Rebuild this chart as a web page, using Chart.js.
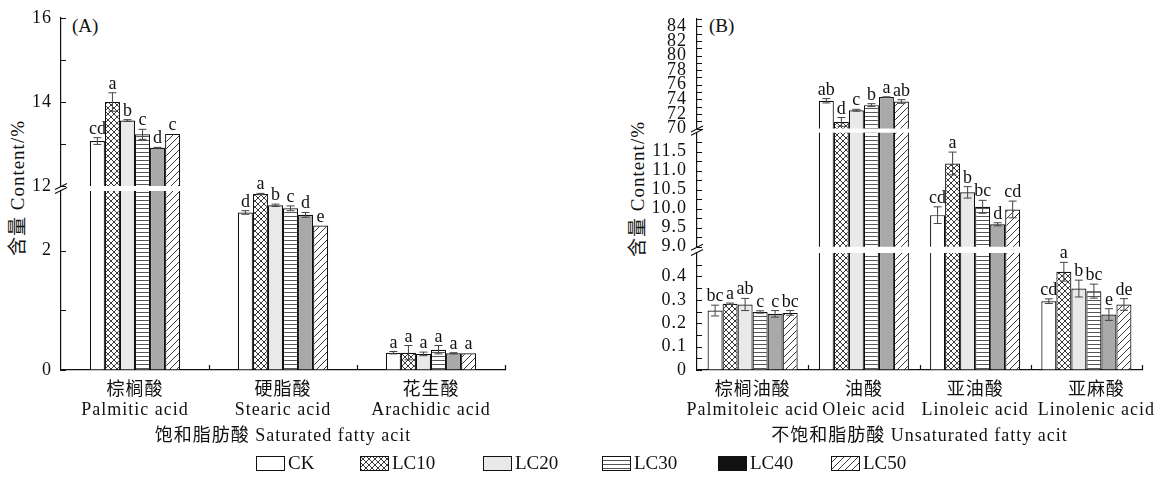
<!DOCTYPE html>
<html><head><meta charset="utf-8">
<script src="https://cdn.jsdelivr.net/npm/chart.js@4.4.1/dist/chart.umd.min.js"></script>
<style>
html,body{margin:0;padding:0;background:#fff;}
#page{position:relative;width:1168px;height:478px;overflow:hidden;font-family:"Liberation Serif","Noto Sans CJK SC",serif;color:#111;}
#page canvas.seg{position:absolute;left:0;top:0;}
.ytitle{position:absolute;font-size:19px;letter-spacing:1px;white-space:nowrap;transform:translate(-50%,-50%) rotate(-90deg);}
.plabel{position:absolute;font-size:19px;line-height:19px;}
.li{position:absolute;top:455px;height:16px;display:flex;align-items:center;font-size:19px;line-height:16px;}
.li canvas{margin-right:3px;display:block;}
</style></head>
<body>
<div id="page">
  <div class="ytitle" style="left:15px;top:188px;">含量 Content/%</div>
  <div class="ytitle" style="left:635px;top:189px;">含量 Content/%</div>
  <div class="plabel" style="left:72px;top:16px;">(A)</div>
  <div class="plabel" style="left:709px;top:16px;">(B)</div>
</div>
<script>
// ---------------- data ----------------
const series = ['CK', 'LC10', 'LC20', 'LC30', 'LC40', 'LC50'];

const satCategories = [['棕榈酸', 'Palmitic acid'], ['硬脂酸', 'Stearic acid'], ['花生酸', 'Arachidic acid']];
const unsatCategories = [['棕榈油酸', 'Palmitoleic acid'], ['油酸', 'Oleic acid'], ['亚油酸', 'Linoleic acid'], ['亚麻酸', 'Linolenic acid']];
const satTitle = '饱和脂肪酸 Saturated fatty acit';
const unsatTitle = '不饱和脂肪酸 Unsaturated fatty acit';

// values in series order: CK, LC10, LC20, LC30, LC40, LC50
const palmitic = [13.07, 14.00, 13.56, 13.23, 12.91, 13.24];
const palmiticErr = [0.08, 0.22, 0.02, 0.12, 0.01, 0];
const palmiticSig = ['cd', 'a', 'b', 'c', 'd', 'c'];

const stearic = [2.64, 2.95, 2.76, 2.71, 2.60, 2.42];
const stearicErr = [0.03, 0.01, 0.02, 0.04, 0.04, 0];
const stearicSig = ['d', 'a', 'b', 'c', 'd', 'e'];

const arachidic = [0.29, 0.29, 0.27, 0.34, 0.28, 0.28];
const arachidicErr = [0.02, 0.12, 0.03, 0.07, 0.01, 0];
const arachidicSig = ['a', 'a', 'a', 'a', 'a', 'a'];

const palmitoleic = [0.254, 0.283, 0.280, 0.248, 0.240, 0.244];
const palmitoleicErr = [0.023, 0.003, 0.026, 0.005, 0.014, 0.010];
const palmitoleicSig = ['bc', 'a', 'ab', 'c', 'c', 'bc'];

const oleic = [73.8, 70.9, 72.5, 73.2, 74.3, 73.7];
const oleicErr = [0.3, 0.6, 0.13, 0.2, 0.05, 0.25];
const oleicSig = ['ab', 'd', 'c', 'b', 'a', 'ab'];

const linoleic = [9.83, 11.19, 10.43, 10.05, 9.59, 9.98];
const linoleicErr = [0.22, 0.30, 0.15, 0.17, 0.04, 0.22];
const linoleicSig = ['cd', 'a', 'b', 'bc', 'd', 'cd'];

const linolenic = [0.294, 0.420, 0.348, 0.337, 0.237, 0.280];
const linolenicErr = [0.010, 0.040, 0.036, 0.030, 0.025, 0.025];
const linolenicSig = ['cd', 'a', 'b', 'bc', 'e', 'de'];

// tick values of every axis segment (broken axes)
const ticksA1 = [12, 13, 14, 15, 16];
const labelsA1 = [12, 14, 16];
const ticksA0 = [0, 1, 2];
const labelsA0 = [0, 2];
const ticksB2 = [70, 71, 72, 73, 74, 75, 76, 77, 78, 79, 80, 81, 82, 83, 84, 85];
const labelsB2 = [70, 72, 74, 76, 78, 80, 82, 84];
const ticksB1 = [9, 9.25, 9.5, 9.75, 10, 10.25, 10.5, 10.75, 11, 11.25, 11.5, 11.75];
const labelsB1 = [9, 9.5, 10, 10.5, 11, 11.5];
const ticksB0 = [0, 0.05, 0.1, 0.15, 0.2, 0.25, 0.3, 0.35, 0.4, 0.45];
const labelsB0 = [0, 0.1, 0.2, 0.3, 0.4];

// ---------------- styling ----------------
const FONT = '"Liberation Serif", "Noto Sans CJK SC", serif';
const W = 1168, H = 478;

function makeTile(size, drawFn, bg) {
  const c = document.createElement('canvas');
  c.width = size; c.height = size;
  const x = c.getContext('2d');
  x.fillStyle = bg; x.fillRect(0, 0, size, size);
  drawFn(x, size);
  return c;
}
const tmp = document.createElement('canvas').getContext('2d');
function pattern(tile) { return tmp.createPattern(tile, 'repeat'); }

const tileCross = makeTile(6, (x, s) => {
  x.strokeStyle = '#222'; x.lineWidth = 0.9;
  x.beginPath();
  x.moveTo(0, 0); x.lineTo(s, s);
  x.moveTo(0, s); x.lineTo(s, 0);
  x.stroke();
}, '#fff');
const tileHoriz = makeTile(4, (x, s) => {
  x.fillStyle = '#555'; x.fillRect(0, 0, s, 1);
}, '#fff');
const tileDiag = makeTile(7, (x, s) => {
  x.strokeStyle = '#222'; x.lineWidth = 0.9;
  x.beginPath();
  x.moveTo(-1, s + 1); x.lineTo(s + 1, -1);
  x.moveTo(-1, 1); x.lineTo(1, -1);
  x.moveTo(s - 1, s + 1); x.lineTo(s + 1, s - 1);
  x.stroke();
}, '#fff');

const fills = ['#ffffff', pattern(tileCross), '#e9e9e9', pattern(tileHoriz), '#a9a9a9', pattern(tileDiag)];
const legendFills = ['#ffffff', tileCross, '#e9e9e9', tileHoriz, '#111111', tileDiag];

// ---------------- layout of panels / segments ----------------
const panels = {
  A: { axisX: 61, right: 505, catPct: 0.61, labelPad: 9, cats: satCategories, title: satTitle, shiftLast: false,
       values: [palmitic, stearic, arachidic], errs: [palmiticErr, stearicErr, arachidicErr], sigs: [palmiticSig, stearicSig, arachidicSig] },
  B: { axisX: 697, right: 1142, catPct: 0.81, labelPad: 10, cats: unsatCategories, title: unsatTitle, shiftLast: true,
       values: [palmitoleic, oleic, linoleic, linolenic], errs: [palmitoleicErr, oleicErr, linoleicErr, linolenicErr], sigs: [palmitoleicSig, oleicSig, linoleicSig, linolenicSig] }
};

const fmtInt = v => String(Math.round(v));
const fmt1 = v => v.toFixed(1);
const fmt0 = v => (v === 0 ? '0' : v.toFixed(1));

const segments = [
  { panel: 'A', min: 12, max: 16, top: 15, bottom: 186, ticks: ticksA1, labels: labelsA1, fmt: fmtInt, xAxis: false, prevBottom: null },
  { panel: 'A', min: 0, max: 3, top: 191, bottom: 370, ticks: ticksA0, labels: labelsA0, fmt: fmtInt, xAxis: true, prevBottom: 186 },
  { panel: 'B', min: 70, max: 85, top: 13.4, bottom: 128.5, ticks: ticksB2, labels: labelsB2, fmt: fmtInt, xAxis: false, prevBottom: null },
  { panel: 'B', min: 9, max: 12, top: 132.7, bottom: 246.7, ticks: ticksB1, labels: labelsB1, fmt: fmt1, xAxis: false, prevBottom: 128.5 },
  { panel: 'B', min: 0, max: 0.5, top: 253, bottom: 370, ticks: ticksB0, labels: labelsB0, fmt: fmt0, xAxis: true, prevBottom: 246.7 }
];

const Y_W = 60, X_H = 76;

function makeSegment(seg) {
  const P = panels[seg.panel];
  const canvas = document.createElement('canvas');
  canvas.className = 'seg';
  canvas.width = W; canvas.height = H;
  document.getElementById('page').appendChild(canvas);

  const datasets = series.map((name, si) => ({
    label: name,
    data: P.values.map(arr => (arr[si] > seg.min ? arr[si] : null)),
    backgroundColor: fills[si],
    borderColor: '#111',
    borderWidth: 1.2,
    borderSkipped: 'start',
    categoryPercentage: P.catPct,
    barPercentage: 1,
    clip: 0
  }));

  const decor = {
    id: 'decor',
    beforeDraw(chart) { chart.ctx.letterSpacing = '1px'; },
    afterDraw(chart) {
      const ctx = chart.ctx;
      const ys = chart.scales.y, xs = chart.scales.x;
      const ax = chart.chartArea.left;
      ctx.save();
      ctx.letterSpacing = '0px';
      ctx.strokeStyle = '#111'; ctx.lineWidth = 1.2;
      ctx.beginPath();
      ys.ticks.forEach(t => {
        const y = Math.round(ys.getPixelForValue(t.value)) + 0.5;
        ctx.moveTo(ax, y); ctx.lineTo(ax + 5, y);
      });
      ctx.stroke();
      if (seg.xAxis) {
        const yb = chart.chartArea.bottom;
        ctx.beginPath();
        for (let i = 1; i <= P.cats.length; i++) {
          const x = Math.round(xs.getPixelForValue(i - 0.5)) + 0.5;
          ctx.moveTo(x, yb); ctx.lineTo(x, yb - 5);
        }
        ctx.stroke();
      }
      if (seg.prevBottom !== null) {
        ctx.lineWidth = 1.1;
        ctx.beginPath();
        [seg.prevBottom + 0.5, seg.top - 0.5].forEach(y => {
          ctx.moveTo(ax - 6, y + 3); ctx.lineTo(ax + 6, y - 3);
        });
        ctx.stroke();
      }
      ctx.restore();
    },
    afterDatasetsDraw(chart) {
      const ctx = chart.ctx;
      const ys = chart.scales.y;
      ctx.save();
      ctx.letterSpacing = '0px';
      chart.data.datasets.forEach((ds, si) => {
        const meta = chart.getDatasetMeta(si);
        P.values.forEach((arr, ci) => {
          const v = arr[si];
          if (!(v >= seg.min && v <= seg.max)) return;
          const bar = meta.data[ci];
          if (!bar) return;
          const x = bar.x;
          const e = P.errs[ci][si];
          let topY = ys.getPixelForValue(v);
          if (e > 0) {
            const y1 = ys.getPixelForValue(v + e), y2 = ys.getPixelForValue(v - e);
            ctx.strokeStyle = '#444'; ctx.lineWidth = 1;
            ctx.beginPath();
            ctx.moveTo(x, y1); ctx.lineTo(x, y2);
            ctx.moveTo(x - 4, y1); ctx.lineTo(x + 4, y1);
            ctx.moveTo(x - 4, y2); ctx.lineTo(x + 4, y2);
            ctx.stroke();
            topY = y1;
          }
          ctx.fillStyle = '#111';
          ctx.font = '18px ' + FONT;
          ctx.textAlign = 'center';
          ctx.textBaseline = 'alphabetic';
          ctx.fillText(P.sigs[ci][si], x, topY - 4);
        });
      });
      ctx.restore();
    }
  };

  const bottomPad = seg.xAxis ? (H - seg.bottom - X_H) : (H - seg.bottom);

  new Chart(canvas, {
    type: 'bar',
    data: { labels: P.cats, datasets },
    options: {
      responsive: false,
      devicePixelRatio: 1,
      animation: false,
      events: [],
      layout: { padding: { left: P.axisX - Y_W, right: W - P.right, top: seg.top, bottom: bottomPad } },
      plugins: { legend: { display: false }, tooltip: { enabled: false } },
      scales: {
        x: {
          display: seg.xAxis,
          offset: true,
          grid: { display: true, drawOnChartArea: false, drawTicks: false },
          border: { display: true, color: '#111', width: 1.2 },
          ticks: { autoSkip: false, maxRotation: 0, minRotation: 0, padding: 10, color: '#111',
                   font: { family: FONT, size: 18, lineHeight: 1.111 },
                   callback(value, index) {
                     const lab = P.cats[index];
                     // the last label sits slightly right of its slot in the original
                     return (P.shiftLast && index === P.cats.length - 1) ? lab.map(s => '\u2002\u2002' + s) : lab;
                   } },
          title: { display: true, text: P.title, color: '#111', padding: { top: 0, bottom: 0 },
                   font: { family: FONT, size: 18, lineHeight: 1.111 } },
          afterFit(s) { s.height = seg.xAxis ? X_H : 0; }
        },
        y: {
          min: seg.min, max: seg.max,
          grid: { display: true, drawOnChartArea: false, drawTicks: false },
          border: { display: true, color: '#111', width: 1.2 },
          afterBuildTicks(s) { s.ticks = seg.ticks.map(v => ({ value: v })); },
          ticks: {
            autoSkip: false, padding: P.labelPad, color: '#111',
            font: { family: FONT, size: 18, lineHeight: 1 },
            callback(v) { return seg.labels.some(l => Math.abs(l - v) < 1e-9) ? seg.fmt(v) : ''; }
          },
          afterFit(s) { s.width = Y_W; }
        }
      }
    },
    plugins: [decor]
  });
}

segments.forEach(makeSegment);

// ---------------- legend ----------------
const legendX = [256, 360, 483, 602, 718, 831];
series.forEach((name, i) => {
  const item = document.createElement('div');
  item.className = 'li';
  item.style.left = legendX[i] + 'px';
  const c = document.createElement('canvas');
  c.width = 29; c.height = 15;
  const x = c.getContext('2d');
  const f = legendFills[i];
  x.fillStyle = (typeof f === 'string') ? f : x.createPattern(f, 'repeat');
  x.fillRect(0, 0, 29, 15);
  x.strokeStyle = '#111'; x.lineWidth = 1;
  x.strokeRect(0.5, 0.5, 28, 14);
  item.appendChild(c);
  const t = document.createElement('span');
  t.textContent = name;
  item.appendChild(t);
  document.getElementById('page').appendChild(item);
});
</script>
</body></html>
